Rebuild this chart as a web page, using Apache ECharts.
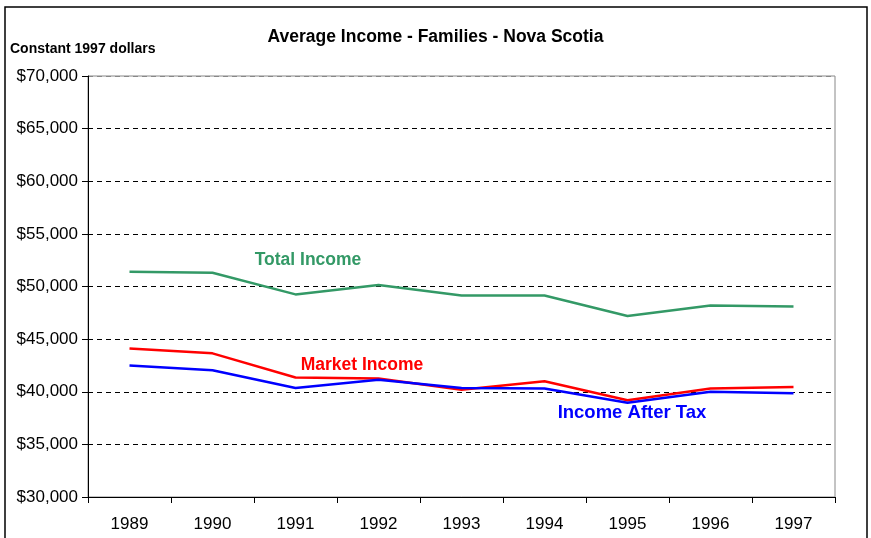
<!DOCTYPE html>
<html>
<head>
<meta charset="utf-8">
<script src="https://cdn.jsdelivr.net/npm/echarts@6/dist/echarts.min.js"></script>
<style>html,body{margin:0;padding:0;background:#fff;}#c{width:871px;height:538px;}</style>
</head>
<body>
<div id="c"></div>
<script>
var years = ['1989','1990','1991','1992','1993','1994','1995','1996','1997'];
var totalIncome = [51400, 51300, 49250, 50150, 49150, 49150, 47200, 48200, 48100];
var marketIncome = [44100, 43650, 41350, 41250, 40200, 41000, 39200, 40300, 40450];
var incomeAfterTax = [42500, 42050, 40350, 41150, 40350, 40300, 38950, 40000, 39850];

function money(v){
  var s = String(Math.round(v));
  return '$' + s.replace(/\B(?=(\d{3})+(?!\d))/g, ',');
}

var chart = echarts.init(document.getElementById('c'));
var font = 'Liberation Sans, Arial, sans-serif';
chart.setOption({
  animation: false,
  backgroundColor: '#fff',
  title: {
    text: 'Average Income - Families - Nova Scotia',
    left: 'center', top: 23,
    textStyle: {fontFamily: font, fontSize: 17.5, fontWeight: 'bold', color: '#000'}
  },
  grid: {left: 88, right: 36, top: 76, bottom: 41, show: true, borderColor: '#888', borderWidth: 1},
  xAxis: {
    type: 'category', data: years, boundaryGap: true,
    axisLine: {lineStyle: {color: '#000', width: 1}},
    axisTick: {show: true, alignWithLabel: false, length: 6, lineStyle: {color: '#000'}},
    axisLabel: {fontFamily: font, fontSize: 17, color: '#000', margin: 19}
  },
  yAxis: {
    type: 'value', min: 30000, max: 70000, interval: 5000,
    axisLine: {show: true, lineStyle: {color: '#000', width: 1}},
    axisTick: {show: true, length: 6, lineStyle: {color: '#000'}},
    axisLabel: {fontFamily: font, fontSize: 17, color: '#000', margin: 10, formatter: money},
    splitLine: {show: true, lineStyle: {color: ['#000','#000','#000','#000','#000','#000','#000','#000','#888'], type: [5,4], width: 1}}
  },
  series: [
    {name: 'Total Income', type: 'line', data: totalIncome, showSymbol: false, symbol: 'none',
     lineStyle: {color: '#339966', width: 2.5}, itemStyle: {color: '#339966'}},
    {name: 'Market Income', type: 'line', data: marketIncome, showSymbol: false, symbol: 'none',
     lineStyle: {color: '#ff0000', width: 2.5}, itemStyle: {color: '#ff0000'}},
    {name: 'Income After Tax', type: 'line', data: incomeAfterTax, showSymbol: false, symbol: 'none',
     lineStyle: {color: '#0000ff', width: 2.5}, itemStyle: {color: '#0000ff'}}
  ],
  graphic: [
    {type: 'rect', shape: {x: 5, y: 7, width: 862, height: 560}, style: {fill: 'none', stroke: '#000', lineWidth: 1.5}, silent: true},
    {type: 'text', left: 10, top: 42, style: {text: 'Constant 1997 dollars', font: 'bold 14px ' + font, fill: '#000'}},
    {type: 'text', x: 308, y: 260, style: {text: 'Total Income', font: 'bold 17.5px ' + font, fill: '#339966', align: 'center', verticalAlign: 'middle'}},
    {type: 'text', x: 362, y: 365, style: {text: 'Market Income', font: 'bold 17.5px ' + font, fill: '#ff0000', align: 'center', verticalAlign: 'middle'}},
    {type: 'text', x: 632, y: 413, style: {text: 'Income After Tax', font: 'bold 18.5px ' + font, fill: '#0000ff', align: 'center', verticalAlign: 'middle'}}
  ]
});
</script>
</body>
</html>
